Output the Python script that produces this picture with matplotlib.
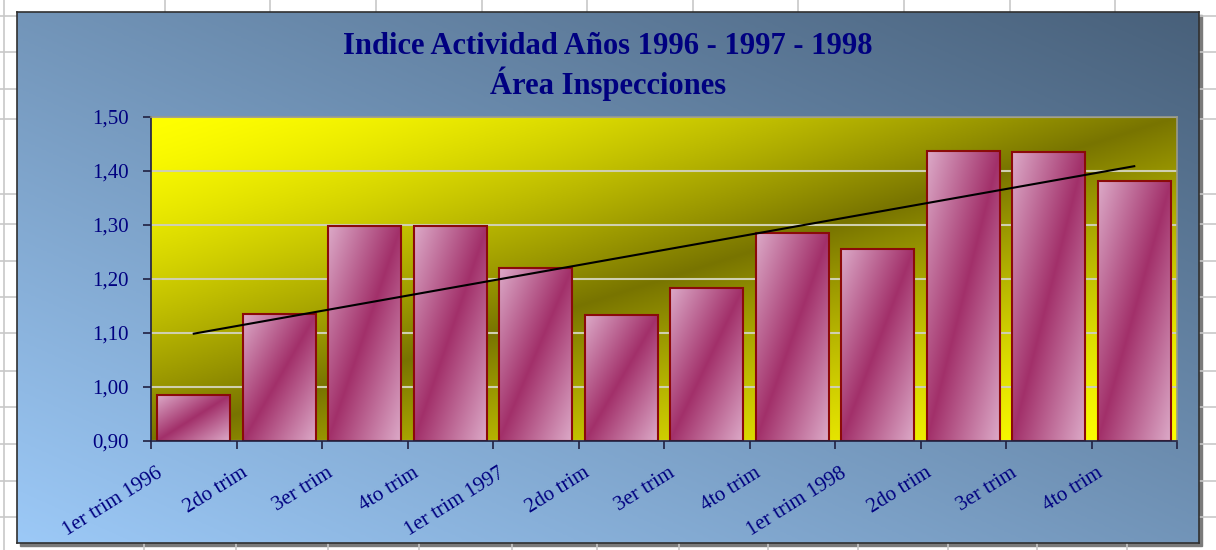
import numpy as np
import matplotlib
matplotlib.use('Agg')
import matplotlib.pyplot as plt
import matplotlib.transforms as mtransforms
from matplotlib.colors import to_rgb
from matplotlib.patches import Rectangle

# data
quarters = ['1er trim 1996', '2do trim', '3er trim', '4to trim',
            '1er trim 1997', '2do trim', '3er trim', '4to trim',
            '1er trim 1998', '2do trim', '3er trim', '4to trim']
indice = [0.985, 1.135, 1.298, 1.298, 1.220, 1.133,
          1.183, 1.285, 1.256, 1.437, 1.435, 1.381]
y_ticks = [0.90, 1.00, 1.10, 1.20, 1.30, 1.40, 1.50]

title1 = 'Indice Actividad Años 1996 - 1997 - 1998'
title2 = 'Área Inspecciones'

W, H = 1216, 550
navy = '#000080'
serif = ['Liberation Serif', 'DejaVu Serif']

fig = plt.figure(figsize=(W / 100, H / 100), dpi=100)
fig.patch.set_facecolor('white')


def fig_rect(x0, y0, x1, y1):
    # pixel box (top-left origin) -> figure fraction
    return [x0 / W, 1 - y1 / H, (x1 - x0) / W, (y1 - y0) / H]


def center_gradient(c_edge, c_mid, power=1.0, n=200):
    # Excel style "diagonal, dark in the middle" fill
    u = np.linspace(0, 1, n)[None, :]
    v = np.linspace(0, 1, n)[:, None]
    s = (1 - np.abs((u + v) - 1)) ** power
    s = s[..., None]
    a, b = np.array(to_rgb(c_edge)), np.array(to_rgb(c_mid))
    return a + (b - a) * s


def linear_gradient(c0, c1, n=200):
    u = np.linspace(0, 1, n)[None, :]
    v = np.linspace(0, 1, n)[:, None]
    t = ((u + (1 - v)) / 2)[..., None]
    a, b = np.array(to_rgb(c0)), np.array(to_rgb(c1))
    return a + (b - a) * t


# spreadsheet grid behind the chart
bg = fig.add_axes([0, 0, 1, 1])
bg.set_xlim(0, W)
bg.set_ylim(H, 0)
bg.axis('off')
for yy in [16, 52, 89, 119, 194, 224, 261, 297, 333, 371, 407, 444, 481, 517]:
    bg.axhline(yy, color='#c8c8c8', lw=1.2)
for xx in [165, 270, 376, 482, 587, 693, 798, 904, 1010, 1115]:
    bg.plot([xx, xx], [0, 30], color='#c8c8c8', lw=1.2)
for xx in [144, 236, 328, 419, 512, 597, 679, 768, 858, 948, 1037, 1127]:
    bg.plot([xx, xx], [530, H], color='#c8c8c8', lw=1.2)
bg.plot([4, 4], [0, H], color='#c8c8c8', lw=1.2)
bg.add_patch(Rectangle((20, 15), 1182, 531, color='#7a7a7a'))

# chart area
ch = fig.add_axes(fig_rect(17, 12, 1199, 543))
ch.imshow(linear_gradient('#9cc9f7', '#48607a'), extent=(0, 1, 0, 1), aspect='auto')
ch.set_xlim(0, 1)
ch.set_ylim(0, 1)
ch.set_xticks([])
ch.set_yticks([])
for sp in ch.spines.values():
    sp.set_color('#303030')
    sp.set_linewidth(1.2)

fig.text(608 / W, 1 - 47 / H, title1, ha='center', va='center', fontsize=22,
         fontweight='bold', color=navy, family=serif)
fig.text(608 / W, 1 - 84 / H, title2, ha='center', va='center', fontsize=22,
         fontweight='bold', color=navy, family=serif)

# plot area
ax = fig.add_axes(fig_rect(151, 117, 1177, 441))
ax.patch.set_alpha(0)
x = np.arange(len(quarters))
ymin, ymax = y_ticks[0], y_ticks[-1]
ax.imshow(center_gradient('#ffff00', '#787400', power=1.5),
          extent=(-0.5, len(x) - 0.5, ymin, ymax), aspect='auto', zorder=0)

bars = ax.bar(x, np.array(indice) - ymin, bottom=ymin, width=0.85,
              facecolor='none', edgecolor='#8b0a0a', lw=1.5, zorder=2)
bar_grad = center_gradient('#dcaac8', '#a2306a')
for b in bars:
    x0, y0 = b.get_x(), b.get_y()
    im = ax.imshow(bar_grad, extent=(x0, x0 + b.get_width(), y0, y0 + b.get_height()),
                   aspect='auto', zorder=1.5)
    im.set_clip_path(b)

# linear trend
coef = np.polyfit(x, indice, 1)
ax.plot(x, np.polyval(coef, x), color='black', lw=1.5, zorder=3)

ax.set_xlim(-0.5, len(x) - 0.5)
ax.set_ylim(ymin, ymax)
ax.set_axisbelow(True)
ax.yaxis.grid(True, color='#cfcfb0', lw=1.5)

ax.set_yticks(y_ticks)
ax.set_yticklabels([f'{v:.2f}'.replace('.', ',') for v in y_ticks],
                   fontsize=15, color=navy, family=serif)
ax.tick_params(axis='y', direction='out', length=6, width=1.2, color='#202040', pad=10)

ax.set_xticks(x)
ax.set_xticklabels(quarters, rotation=32, ha='right', va='center',
                   rotation_mode='anchor', fontsize=15, color=navy, family=serif)
ax.set_xticks(np.arange(-0.5, len(x)), minor=True)
ax.tick_params(axis='x', which='major', length=0, pad=22)
ax.tick_params(axis='x', which='minor', direction='out', length=6, width=1.2, color='#202040')
shift = mtransforms.ScaledTranslation(-33 / 100, 0, fig.dpi_scale_trans)
for lbl in ax.get_xticklabels():
    lbl.set_transform(lbl.get_transform() + shift)

for side in ['left', 'bottom']:
    ax.spines[side].set_color('#202040')
    ax.spines[side].set_linewidth(1.2)
for side in ['top', 'right']:
    ax.spines[side].set_color('#9a9a8a')
    ax.spines[side].set_linewidth(1.2)

fig.savefig('out.png', dpi=100)
